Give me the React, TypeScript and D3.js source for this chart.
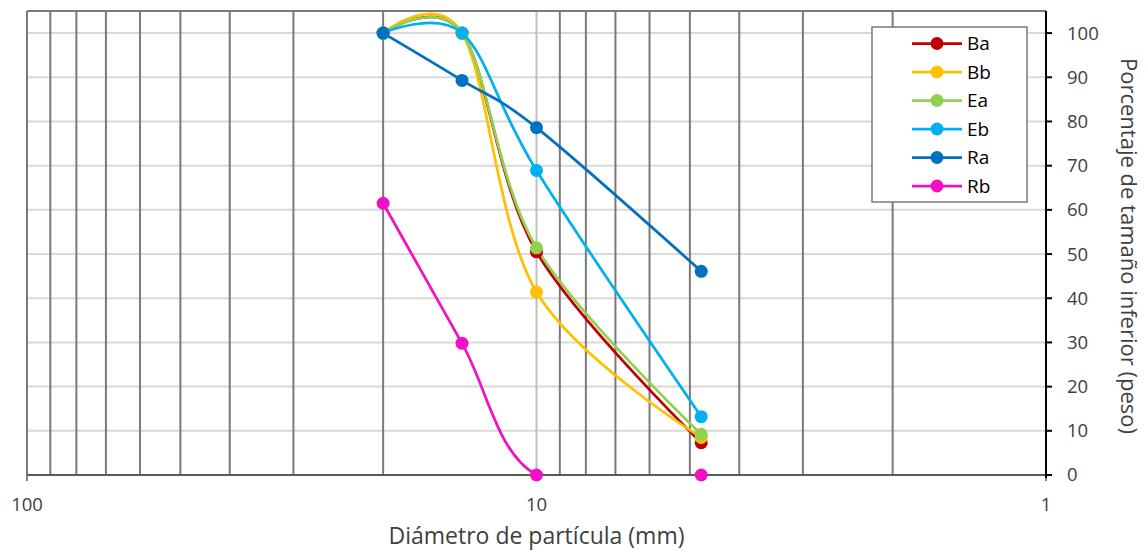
import React from "react";
import * as d3 from "d3";

// Sieve sizes (mm) and cumulative passing percentages per sample
const sizes = [20, 14, 10, 4.75];
const seriesNames = ["Ba", "Bb", "Ea", "Eb", "Ra", "Rb"];
const Ba = [100, 100, 50.5, 7.3];
const Bb = [100, 100, 41.4, 8.5];
const Ea = [100, 100, 51.4, 9.2];
const Eb = [100, 100, 68.9, 13.2];
const Ra = [100, 89.3, 78.6, 46.1];
const Rb = [61.5, 29.8, 0, 0];
const seriesColors = ["#C00000", "#FFC000", "#92D050", "#00B0F0", "#0070C0", "#F20FC4"];

const xTickValues = [100, 10, 1];
const xMinorGrid = [90, 80, 70, 60, 50, 40, 30, 20, 9, 8, 7, 6, 5, 4, 3, 2];
const yTickValues = [0, 10, 20, 30, 40, 50, 60, 70, 80, 90, 100];

const W = 1146;
const H = 551;
const left = 27;
const right = 1046;
const top = 11;
const bottom = 475;
const FONT = "'Open Sans', 'Noto Sans', sans-serif";
const TEXT = "#404040";

export default function App() {
  const x = d3.scaleLog().domain([100, 1]).range([left, right]);
  const y = d3.scaleLinear().domain([0, 105]).range([bottom, top]);
  const values = [Ba, Bb, Ea, Eb, Ra, Rb];

  const line = d3
    .line<[number, number]>()
    .x((d) => x(d[0]))
    .y((d) => y(d[1]))
    .curve(d3.curveCardinal.tension(0));

  const legendX = 872;
  const legendY = 27;
  const legendW = 155;
  const legendH = 175;
  const rowH = 28.5;

  return (
    <svg
      width={W}
      height={H}
      style={{ position: "absolute", left: 0, top: 0, background: "#fff" }}
      fontFamily={FONT}
    >
      <defs>
        <clipPath id="plot-clip">
          <rect x={left} y={top} width={right - left} height={bottom - top} />
        </clipPath>
      </defs>

      {/* horizontal gridlines */}
      {yTickValues.slice(1).map((v) => (
        <line key={"h" + v} x1={left} x2={right} y1={y(v)} y2={y(v)} stroke="#d9d9d9" strokeWidth={2} />
      ))}

      {/* vertical minor gridlines */}
      {xMinorGrid.map((v) => (
        <line key={"v" + v} x1={x(v)} x2={x(v)} y1={top} y2={bottom} stroke="#7a7a7a" strokeWidth={2} />
      ))}
      {/* major gridline at 10 */}
      <line x1={x(10)} x2={x(10)} y1={top} y2={bottom} stroke="#bfbfbf" strokeWidth={2} />

      {/* plot frame: top and left */}
      <line x1={left} x2={right} y1={top} y2={top} stroke="#7a7a7a" strokeWidth={2} />
      <line x1={left} x2={left} y1={top} y2={bottom} stroke="#7a7a7a" strokeWidth={2} />

      {/* bottom axis */}
      <line x1={left} x2={right} y1={bottom} y2={bottom} stroke="#595959" strokeWidth={2} />
      {xTickValues.map((v) => (
        <g key={"xt" + v}>
          <line x1={x(v)} x2={x(v)} y1={bottom} y2={bottom + 6} stroke="#595959" strokeWidth={1.5} />
          <text x={x(v)} y={bottom + 36} textAnchor="middle" fontSize={18.5} fill={TEXT}>
            {v}
          </text>
        </g>
      ))}

      {/* right axis */}
      <line x1={right} x2={right} y1={top} y2={bottom + 3} stroke="#000" strokeWidth={2} />
      {yTickValues.map((v) => (
        <g key={"yt" + v}>
          <line x1={right} x2={right + 6} y1={y(v)} y2={y(v)} stroke="#000" strokeWidth={2} />
          <text x={right + 21} y={y(v)} dy="0.35em" fontSize={18.5} fill={TEXT}>
            {v}
          </text>
        </g>
      ))}

      {/* series lines */}
      <g clipPath="url(#plot-clip)">
        {values.map((vals, i) => (
          <path
            key={"l" + i}
            d={line(sizes.map((s, j) => [s, vals[j]] as [number, number])) || ""}
            fill="none"
            stroke={seriesColors[i]}
            strokeWidth={2.75}
            strokeLinejoin="round"
          />
        ))}
      </g>

      {/* series markers */}
      {values.map((vals, i) => (
        <g key={"m" + i}>
          {vals.map((v, j) => (
            <circle key={j} cx={x(sizes[j])} cy={y(v)} r={6.5} fill={seriesColors[i]} />
          ))}
        </g>
      ))}

      {/* legend */}
      <rect x={legendX} y={legendY} width={legendW} height={legendH} fill="#fff" stroke="#7a7a7a" strokeWidth={1.5} />
      {seriesNames.map((name, i) => {
        const cy = legendY + 16.5 + i * rowH;
        return (
          <g key={"lg" + name}>
            <line x1={legendX + 40} x2={legendX + 90} y1={cy} y2={cy} stroke={seriesColors[i]} strokeWidth={2.75} />
            <circle cx={legendX + 65} cy={cy} r={6.5} fill={seriesColors[i]} />
            <text x={legendX + 95} y={cy} dy="0.36em" fontSize={19} fill="#000">
              {name}
            </text>
          </g>
        );
      })}

      {/* axis titles */}
      <text x={(left + right) / 2} y={544} textAnchor="middle" fontSize={23} fill={TEXT}>
        Diámetro de partícula (mm)
      </text>
      <text
        transform={`translate(${1121},${(top + bottom) / 2 + 3}) rotate(90)`}
        textAnchor="middle"
        fontSize={22}
        fill={TEXT}
      >
        Porcentaje de tamaño inferior (peso)
      </text>
    </svg>
  );
}
